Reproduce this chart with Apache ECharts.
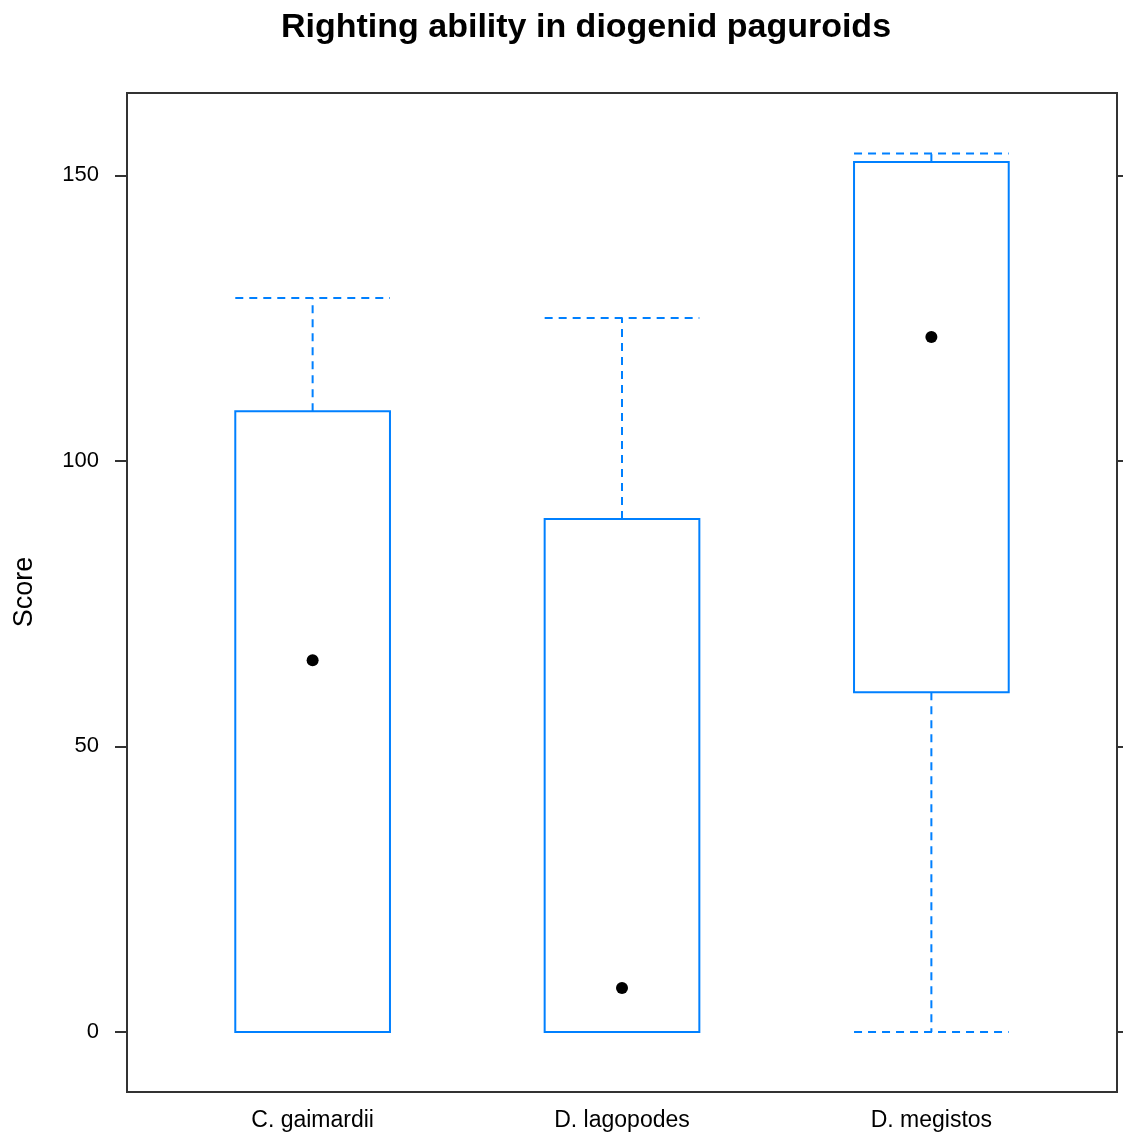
<!DOCTYPE html>
<html>
<head>
<meta charset="utf-8">
<script src="https://cdn.jsdelivr.net/npm/echarts@6/dist/echarts.min.js"></script>
<style>
html,body{margin:0;padding:0;background:#fff;}
#chart{width:1123px;height:1135px;}
</style>
</head>
<body>
<div id="chart"></div>
<script>
// ---- data ----
const categories = ['C. gaimardii', 'D. lagopodes', 'D. megistos'];
const minValues    = [0, 0, 0];
const q1Values     = [0, 0, 59.5];
const medianValues = [65.1, 7.7, 121.7];
const q3Values     = [108.7, 89.8, 152.3];
const maxValues    = [128.5, 125.0, 153.8];
const yTicks = [0, 50, 100, 150];

const BLUE = '#0080ff';
const FONT = '"Liberation Sans", Arial, sans-serif';

const seriesData = categories.map((c, i) => [i + 1, minValues[i], q1Values[i], medianValues[i], q3Values[i], maxValues[i]]);

function renderItem(params, api) {
  const x = api.value(0);
  const vmin = api.value(1), q1 = api.value(2), med = api.value(3), q3 = api.value(4), vmax = api.value(5);
  const half = 0.25;
  const pL = api.coord([x - half, 0])[0];
  const pR = api.coord([x + half, 0])[0];
  const pC = api.coord([x, 0])[0];
  const yMin = api.coord([x, vmin])[1];
  const yQ1 = api.coord([x, q1])[1];
  const yMed = api.coord([x, med])[1];
  const yQ3 = api.coord([x, q3])[1];
  const yMax = api.coord([x, vmax])[1];
  const dashStyle = {stroke: BLUE, lineWidth: 2, lineDash: [8, 6], fill: null};
  const children = [];
  // upper whisker
  children.push({type: 'line', shape: {x1: pC, y1: yQ3, x2: pC, y2: yMax}, style: dashStyle});
  children.push({type: 'line', shape: {x1: pL, y1: yMax, x2: pR, y2: yMax}, style: dashStyle});
  // lower whisker
  if (q1 !== vmin) {
    children.push({type: 'line', shape: {x1: pC, y1: yQ1, x2: pC, y2: yMin}, style: dashStyle});
    children.push({type: 'line', shape: {x1: pL, y1: yMin, x2: pR, y2: yMin}, style: dashStyle});
  }
  // box
  children.push({type: 'rect', shape: {x: pL, y: yQ3, width: pR - pL, height: yQ1 - yQ3},
    style: {stroke: BLUE, lineWidth: 2, fill: null}});
  // median dot
  children.push({type: 'circle', shape: {cx: pC, cy: yMed, r: 6}, style: {fill: '#000', stroke: null}});
  return {type: 'group', children: children};
}

const chart = echarts.init(document.getElementById('chart'), null, {renderer: 'canvas'});
chart.setOption({
  animation: false,
  backgroundColor: '#fff',
  title: {
    text: 'Righting ability in diogenid paguroids',
    left: 581, top: 6, textAlign: 'center',
    textStyle: {fontFamily: FONT, fontWeight: 'bold', fontSize: 34, color: '#000'}
  },
  grid: {left: 127, right: 6, top: 93, bottom: 43, show: true, borderColor: '#333', borderWidth: 2, backgroundColor: 'transparent'},
  xAxis: {
    type: 'value', min: 0.4, max: 3.6,
    axisLine: {show: false}, axisTick: {show: false}, splitLine: {show: false},
    axisLabel: {
      customValues: [1, 2, 3],
      formatter: v => categories[Math.round(v) - 1] || '',
      fontFamily: FONT, fontSize: 23, color: '#000', margin: 17
    }
  },
  yAxis: [{
    type: 'value', min: -10.5, max: 164.4, position: 'left',
    axisLine: {show: false}, splitLine: {show: false},
    axisTick: {show: true, customValues: yTicks, length: 12, lineStyle: {color: '#333', width: 2}},
    axisLabel: {customValues: yTicks, fontFamily: FONT, fontSize: 22, color: '#000', margin: 28,
      padding: [4, 0, 0, 0]}
  }, {
    type: 'value', min: -10.5, max: 164.4, position: 'right',
    axisLine: {show: false}, splitLine: {show: false},
    axisTick: {show: true, customValues: yTicks, length: 6, lineStyle: {color: '#333', width: 2}},
    axisLabel: {show: false}
  }],
  graphic: [{
    type: 'text', x: 25, y: 592, rotation: Math.PI / 2,
    style: {text: 'Score', fontFamily: FONT, fontSize: 27, fill: '#000', align: 'center', verticalAlign: 'middle'}
  }],
  series: [{
    type: 'custom', renderItem: renderItem, data: seriesData,
    encode: {x: 0, y: [1, 2, 3, 4, 5]}, clip: false
  }]
});
</script>
</body>
</html>
